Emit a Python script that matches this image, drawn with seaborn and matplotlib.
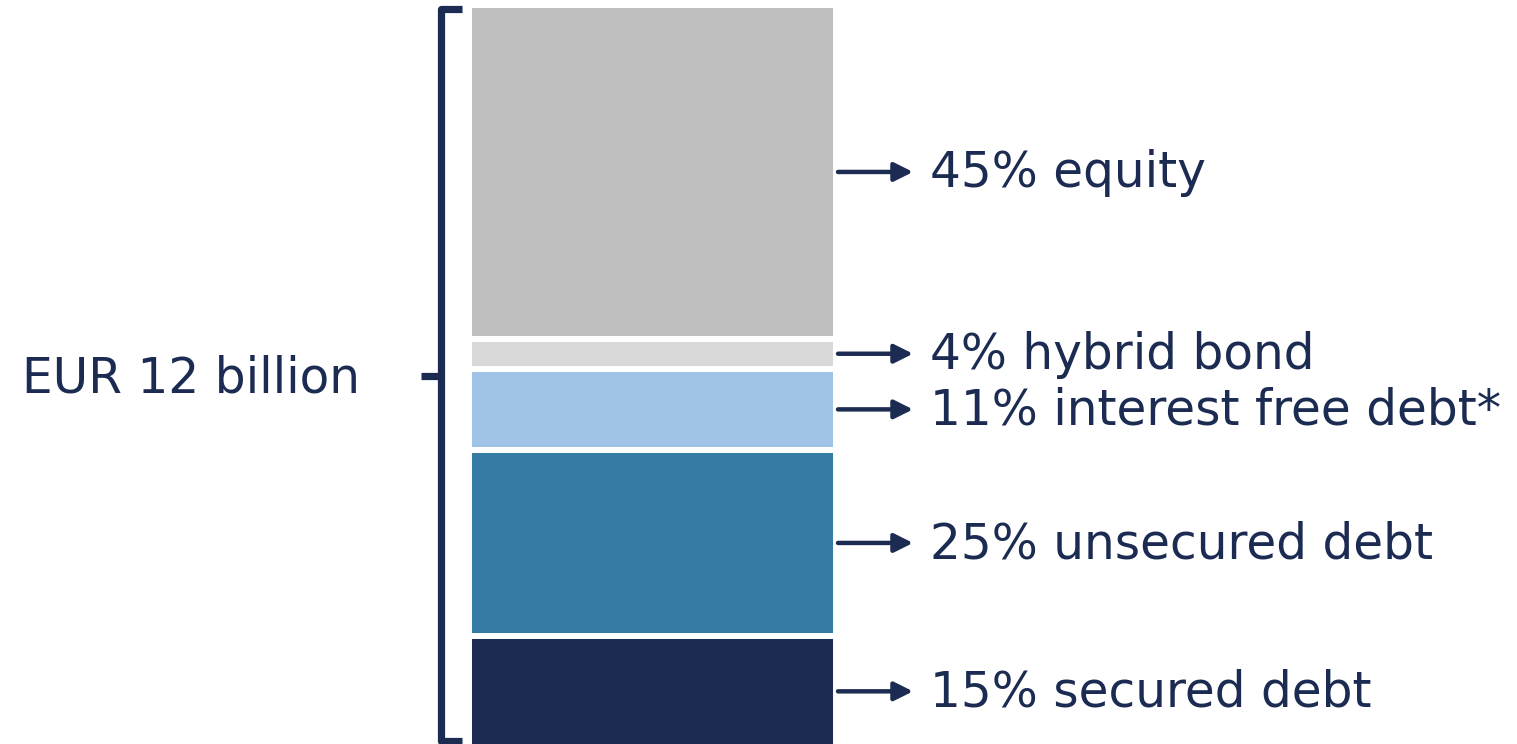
import matplotlib
matplotlib.use("Agg")
import matplotlib.pyplot as plt
import matplotlib.transforms as mtransforms
import seaborn as sns
import pandas as pd

# ---- data (bottom to top) ----
segments = ["secured debt", "unsecured debt", "interest free debt*", "hybrid bond", "equity"]
shares = [15, 25, 11, 4, 45]
colors = ["#1b2b51", "#357ca5", "#9fc3e6", "#d9d9d9", "#bfbfbf"]
total_label = "EUR 12 billion"

navy = "#1b2b51"

sns.set_style("white")
plt.rcParams["font.family"] = ["DejaVu Sans"]

W, H = 1517, 744
EDGE_PT = 4.3
edge_px = EDGE_PT * 100 / 72
fig = plt.figure(figsize=(W / 100, H / 100), dpi=100)
top_px = 8 - edge_px / 2
bot_px = H + edge_px / 2
ax = fig.add_axes([0, (H - bot_px) / H, 1, (bot_px - top_px) / H])

df = pd.DataFrame({"segment": segments, "share": shares})
df["bottom"] = df["share"].cumsum() - df["share"]

for _, row in df.iterrows():
    sns.barplot(x=["capital"], y=[row["share"]], bottom=row["bottom"],
                color=colors[segments.index(row["segment"])], width=0.8,
                edgecolor="white", linewidth=EDGE_PT, saturation=1, ax=ax)

total = float(sum(shares))
scale = (361 + edge_px) / 0.8
ax.set_xlim(-652.5 / scale, (W - 652.5) / scale)
ax.set_ylim(0, total)
ax.axis("off")

trans = mtransforms.blended_transform_factory(ax.transAxes, ax.transData)

# labels with arrows
for _, row in df.iterrows():
    yc = row["bottom"] + row["share"] / 2
    ax.annotate("", xy=(913 / W, yc), xytext=(838 / W, yc), xycoords=trans,
                textcoords=trans,
                arrowprops=dict(arrowstyle="-|>", lw=3.2, color=navy,
                                mutation_scale=28, shrinkA=0, shrinkB=0))
    ax.annotate(f"{row['share']}% {row['segment']}", xy=(930 / W, yc), xycoords=trans,
                xytext=(0, -11), textcoords="offset points",
                ha="left", va="baseline", fontsize=35, color=navy)

# bracket
bx = 441 / W
hook = 462 / W
tick = 421 / W
ytop = total - 0.5
ybot = 0.8
ax.plot([hook, bx, bx, hook], [ytop, ytop, ybot, ybot], transform=trans,
        color=navy, lw=5.2, solid_joinstyle="round", solid_capstyle="butt")
ax.plot([tick, bx], [total / 2, total / 2], transform=trans,
        color=navy, lw=5.2, solid_capstyle="butt")

ax.annotate(total_label, xy=(22 / W, total / 2), xycoords=trans,
            xytext=(0, -12), textcoords="offset points",
            ha="left", va="baseline", fontsize=35, color=navy)

fig.savefig("out.png", dpi=100)
